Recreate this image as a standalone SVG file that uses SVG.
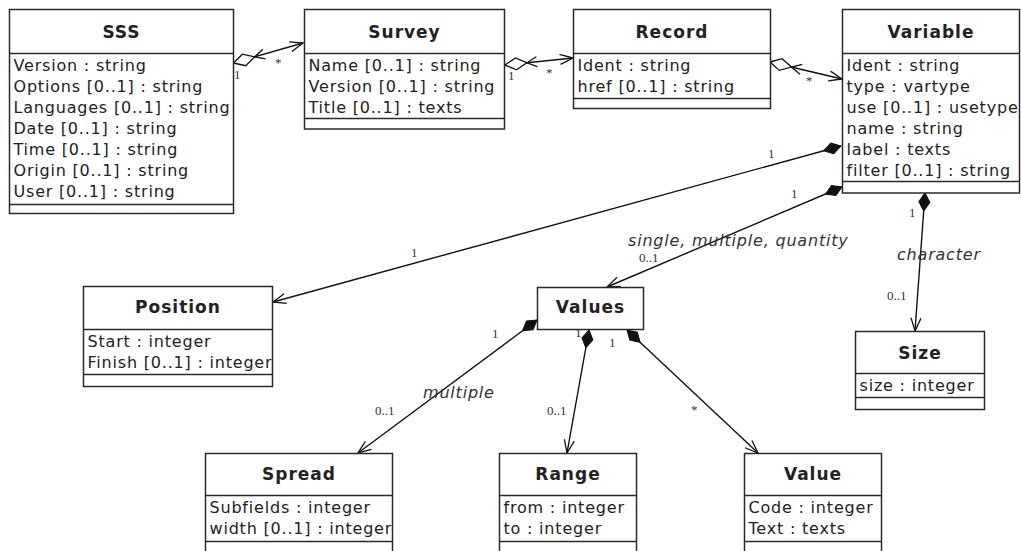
<svg xmlns="http://www.w3.org/2000/svg" width="1021" height="551" viewBox="0 0 1021 551">
  <style>
    .box { fill: #fff; stroke: #2a2a2a; stroke-width: 1.5; }
    .sep { stroke: #2a2a2a; stroke-width: 1.5; }
    .title { font-family: "DejaVu Sans", Verdana, sans-serif; font-weight: bold; font-size: 17px; letter-spacing: 1px; fill: #222; text-anchor: middle; }
    .attr { font-family: "DejaVu Sans", Verdana, sans-serif; font-size: 16px; letter-spacing: 0.8px; fill: #222; }
    .role { font-family: "DejaVu Sans", Verdana, sans-serif; font-style: italic; font-size: 16px; letter-spacing: 0.8px; fill: #333; }
    .mult { font-family: "Liberation Serif", "Times New Roman", serif; font-size: 13px; fill: #333; }
    .link { fill: none; stroke: #111; stroke-width: 1.4; }
  </style>
  <defs>
    <!-- hollow aggregation diamond with a navigability arrow just past it -->
    <marker id="agg" markerUnits="userSpaceOnUse" orient="auto" refX="0" refY="0" markerWidth="40" markerHeight="20" overflow="visible">
      <path d="M0,0 L11,-6 L22,0 L11,6 Z" fill="#fff" stroke="#111" stroke-width="1.3"/>
      <path d="M32,-5 L22,0 L32,5" fill="none" stroke="#111" stroke-width="1.3"/>
    </marker>
    <!-- filled composition diamond -->
    <marker id="comp" markerUnits="userSpaceOnUse" orient="auto" refX="0" refY="0" markerWidth="30" markerHeight="20" overflow="visible">
      <path d="M0,0 L9,-5.5 L18,0 L9,5.5 Z" fill="#111" stroke="#111" stroke-width="1"/>
    </marker>
    <!-- open navigability arrow -->
    <marker id="open" markerUnits="userSpaceOnUse" orient="auto" refX="0" refY="0" markerWidth="30" markerHeight="20" overflow="visible">
      <path d="M-13,-5 L0,0 L-13,5" fill="none" stroke="#111" stroke-width="1.3"/>
    </marker>
  </defs>

  <rect width="1021" height="551" fill="#fff"/>

  <g id="connectors">
    <path class="link" d="M233.5,63 L303,43" marker-start="url(#agg)" marker-end="url(#open)"/>
    <path class="link" d="M505,65 L573,58" marker-start="url(#agg)" marker-end="url(#open)"/>
    <path class="link" d="M770,62 L842,79" marker-start="url(#agg)" marker-end="url(#open)"/>
    <path class="link" d="M841,146 L273,302" marker-start="url(#comp)" marker-end="url(#open)"/>
    <path class="link" d="M842,187 L607,287" marker-start="url(#comp)" marker-end="url(#open)"/>
    <path class="link" d="M925,193 L915,331" marker-start="url(#comp)" marker-end="url(#open)"/>
    <path class="link" d="M537,320 L358,453" marker-start="url(#comp)" marker-end="url(#open)"/>
    <path class="link" d="M589,330 L567,453" marker-start="url(#comp)" marker-end="url(#open)"/>
    <path class="link" d="M627,330 L758,453" marker-start="url(#comp)" marker-end="url(#open)"/>

    <text class="mult" x="234" y="79">1</text>
    <text class="mult" x="275" y="67">*</text>
    <text class="mult" x="508" y="80">1</text>
    <text class="mult" x="546" y="77">*</text>
    <text class="mult" x="765" y="77">1</text>
    <text class="mult" x="806" y="85">*</text>
    <text class="mult" x="768" y="158">1</text>
    <text class="mult" x="411" y="257">1</text>
    <text class="mult" x="791" y="198">1</text>
    <text class="mult" x="639" y="262">0..1</text>
    <text class="role" x="628" y="246">single, multiple, quantity</text>
    <text class="mult" x="909" y="217">1</text>
    <text class="role" x="897" y="260">character</text>
    <text class="mult" x="887" y="300">0..1</text>
    <text class="mult" x="492" y="338">1</text>
    <text class="role" x="423" y="398">multiple</text>
    <text class="mult" x="375" y="415">0..1</text>
    <text class="mult" x="575" y="337">1</text>
    <text class="mult" x="547" y="415">0..1</text>
    <text class="mult" x="609" y="347">1</text>
    <text class="mult" x="691" y="414">*</text>
  </g>

  <g id="sss">
    <rect class="box" x="9.5" y="9.5" width="224" height="204"/>
    <line class="sep" x1="9.5" y1="53.5" x2="233.5" y2="53.5"/>
    <line class="sep" x1="9.5" y1="204.5" x2="233.5" y2="204.5"/>
    <text class="title" x="121.5" y="38">SSS</text>
    <text class="attr" x="13.5" y="70.5">Version : string</text>
    <text class="attr" x="13.5" y="91.5">Options [0..1] : string</text>
    <text class="attr" x="13.5" y="112.5">Languages [0..1] : string</text>
    <text class="attr" x="13.5" y="133.5">Date [0..1] : string</text>
    <text class="attr" x="13.5" y="154.5">Time [0..1] : string</text>
    <text class="attr" x="13.5" y="175.5">Origin [0..1] : string</text>
    <text class="attr" x="13.5" y="196.5">User [0..1] : string</text>
  </g>

  <g id="survey">
    <rect class="box" x="304.5" y="9.5" width="200" height="119.5"/>
    <line class="sep" x1="304.5" y1="53.5" x2="504.5" y2="53.5"/>
    <line class="sep" x1="304.5" y1="118.5" x2="504.5" y2="118.5"/>
    <text class="title" x="404.5" y="38">Survey</text>
    <text class="attr" x="308.5" y="70.5">Name [0..1] : string</text>
    <text class="attr" x="308.5" y="91.5">Version [0..1] : string</text>
    <text class="attr" x="308.5" y="112.5">Title [0..1] : texts</text>
  </g>

  <g id="record">
    <rect class="box" x="573.5" y="9.5" width="197" height="99"/>
    <line class="sep" x1="573.5" y1="53.5" x2="770.5" y2="53.5"/>
    <line class="sep" x1="573.5" y1="98.5" x2="770.5" y2="98.5"/>
    <text class="title" x="672" y="38">Record</text>
    <text class="attr" x="577.5" y="70.5">Ident : string</text>
    <text class="attr" x="577.5" y="91.5">href [0..1] : string</text>
  </g>

  <g id="variable">
    <rect class="box" x="842.5" y="9.5" width="177" height="183.5"/>
    <line class="sep" x1="842.5" y1="53.5" x2="1019.5" y2="53.5"/>
    <line class="sep" x1="842.5" y1="181.5" x2="1019.5" y2="181.5"/>
    <text class="title" x="931" y="38">Variable</text>
    <text class="attr" x="846.5" y="70.5">Ident : string</text>
    <text class="attr" x="846.5" y="91.5">type : vartype</text>
    <text class="attr" x="846.5" y="112.5">use [0..1] : usetype</text>
    <text class="attr" x="846.5" y="133.5">name : string</text>
    <text class="attr" x="846.5" y="154.5">label : texts</text>
    <text class="attr" x="846.5" y="175.5">filter [0..1] : string</text>
  </g>

  <g id="position">
    <rect class="box" x="83.5" y="286.5" width="189" height="100"/>
    <line class="sep" x1="83.5" y1="329.5" x2="272.5" y2="329.5"/>
    <line class="sep" x1="83.5" y1="374.5" x2="272.5" y2="374.5"/>
    <text class="title" x="178" y="313">Position</text>
    <text class="attr" x="87.5" y="347">Start : integer</text>
    <text class="attr" x="87.5" y="368">Finish [0..1] : integer</text>
  </g>

  <g id="values">
    <rect class="box" x="537.5" y="287.5" width="106" height="42"/>
    <text class="title" x="590.5" y="313">Values</text>
  </g>

  <g id="size">
    <rect class="box" x="855.5" y="331.5" width="129" height="78"/>
    <line class="sep" x1="855.5" y1="373.5" x2="984.5" y2="373.5"/>
    <line class="sep" x1="855.5" y1="397.5" x2="984.5" y2="397.5"/>
    <text class="title" x="920" y="358.5">Size</text>
    <text class="attr" x="859.5" y="391">size : integer</text>
  </g>

  <g id="spread">
    <rect class="box" x="205.5" y="453.5" width="187" height="110"/>
    <line class="sep" x1="205.5" y1="495.5" x2="392.5" y2="495.5"/>
    <line class="sep" x1="205.5" y1="541.5" x2="392.5" y2="541.5"/>
    <text class="title" x="299" y="479.5">Spread</text>
    <text class="attr" x="209.5" y="513">Subfields : integer</text>
    <text class="attr" x="209.5" y="534">width [0..1] : integer</text>
  </g>

  <g id="range">
    <rect class="box" x="499.5" y="453.5" width="137" height="110"/>
    <line class="sep" x1="499.5" y1="495.5" x2="636.5" y2="495.5"/>
    <line class="sep" x1="499.5" y1="541.5" x2="636.5" y2="541.5"/>
    <text class="title" x="568" y="479.5">Range</text>
    <text class="attr" x="503.5" y="513">from : integer</text>
    <text class="attr" x="503.5" y="534">to : integer</text>
  </g>

  <g id="value">
    <rect class="box" x="744.5" y="453.5" width="137" height="110"/>
    <line class="sep" x1="744.5" y1="495.5" x2="881.5" y2="495.5"/>
    <line class="sep" x1="744.5" y1="541.5" x2="881.5" y2="541.5"/>
    <text class="title" x="813" y="479.5">Value</text>
    <text class="attr" x="748.5" y="513">Code : integer</text>
    <text class="attr" x="748.5" y="534">Text : texts</text>
  </g>
</svg>
